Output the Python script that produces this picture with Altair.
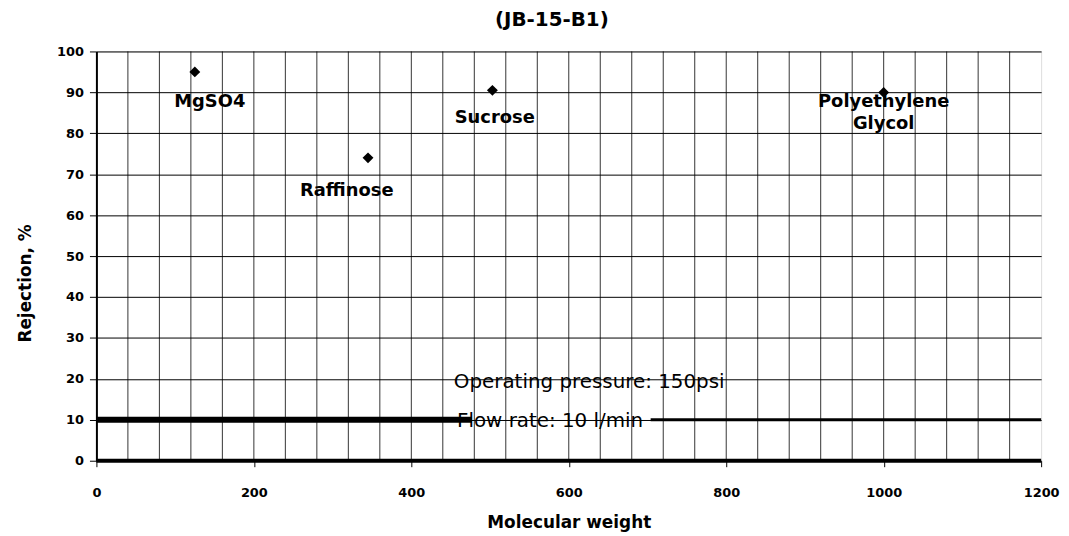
import altair as alt
import pandas as pd

# Measured points
mw = [125, 345, 503, 1000]
rejection = [95, 74, 90.5, 90]
solute = ["MgSO4", "Raffinose", "Sucrose", "Polyethylene Glycol"]

# Point labels
label_text = ["MgSO4", "Raffinose", "Sucrose", "Polyethylene", "Glycol"]
label_x = [144, 318, 506, 1000, 1000]
label_y = [87.6, 65.8, 83.7, 87.6, 82.3]

# Notes
note_text = ["Operating pressure:  150psi", "Flow rate:   10 l/min"]
note_x = [454, 458]
note_y = [19.3, 9.7]

# Heavy lines of the scanned grid
heavy_x = [0, 0, 704]
heavy_x2 = [1200, 477, 1200]
heavy_y = [0, 10, 10]
heavy_w = [4, 6, 3]

x_grid = list(range(40, 1200, 40))
x_ticks = list(range(0, 1201, 200))
y_ticks = list(range(0, 101, 10))

pts = pd.DataFrame({"mw": mw, "rej": rejection, "solute": solute})
lab = pd.DataFrame({"t": label_text, "x": label_x, "y": label_y})
notes = pd.DataFrame({"t": note_text, "x": note_x, "y": note_y})
heavy = pd.DataFrame({"x": heavy_x, "x2": heavy_x2, "y": heavy_y, "w": heavy_w})
vgrid = pd.DataFrame({"g": x_grid})

FONT = "DejaVu Sans"
xscale = alt.Scale(domain=[0, 1200], nice=False, zero=True)
yscale = alt.Scale(domain=[0, 100], nice=False)

xaxis = alt.Axis(
    values=x_ticks, format="d",
    grid=False, domain=False,
    tickColor="black", tickSize=6,
    labelFont=FONT, labelFontSize=13, labelFontWeight="bold", labelColor="black",
    labelPadding=20, labelFlush=False, labelOverlap=False,
    title="Molecular    weight", titleFont=FONT, titleFontSize=17, titleFontWeight="bold",
    titleColor="black", titlePadding=15,
)
yaxis = alt.Axis(
    values=y_ticks,
    grid=True, gridColor="black", gridWidth=1,
    domain=True, domainColor="black", domainWidth=2,
    tickColor="black", tickSize=7,
    labelFont=FONT, labelFontSize=13, labelFontWeight="bold", labelColor="black",
    labelPadding=6,
    title="Rejection, %", titleFont=FONT, titleFontSize=17, titleFontWeight="bold",
    titleColor="black", titlePadding=22, titleY=233,
)

grid_rules = alt.Chart(vgrid).mark_rule(color="black", strokeWidth=1, opacity=0.8).encode(
    x=alt.X("g:Q", scale=xscale, axis=xaxis),
)

base_pts = alt.Chart(pts).mark_point(shape="diamond", filled=True, color="black", size=120, opacity=1).encode(
    x=alt.X("mw:Q", scale=xscale),
    y=alt.Y("rej:Q", scale=yscale, axis=yaxis),
)

rules = alt.Chart(heavy).mark_rule(color="black").encode(
    x=alt.X("x:Q", scale=xscale),
    x2="x2:Q",
    y=alt.Y("y:Q", scale=yscale),
    strokeWidth=alt.StrokeWidth("w:Q", scale=None, legend=None),
)

labels = alt.Chart(lab).mark_text(font=FONT, fontSize=18, fontWeight="bold", color="black", align="center", baseline="middle").encode(
    x=alt.X("x:Q", scale=xscale),
    y=alt.Y("y:Q", scale=yscale),
    text="t:N",
)

note_marks = alt.Chart(notes).mark_text(font=FONT, fontSize=20, color="black", align="left", baseline="middle").encode(
    x=alt.X("x:Q", scale=xscale),
    y=alt.Y("y:Q", scale=yscale),
    text="t:N",
)

chart = alt.layer(grid_rules, rules, base_pts, labels, note_marks).properties(
    width=951, height=412,
    title=alt.TitleParams("(JB-15-B1)", font=FONT, fontSize=20, fontWeight="bold", color="black", dx=-17, offset=16),
    autosize=alt.AutoSizeParams(type="none"),
    padding={"left": 89, "top": 42, "right": 20, "bottom": 70},
).configure_view(stroke="black", strokeWidth=2).configure(background="white")

chart.save("out.html", embed_options={"renderer": "svg", "actions": False})
